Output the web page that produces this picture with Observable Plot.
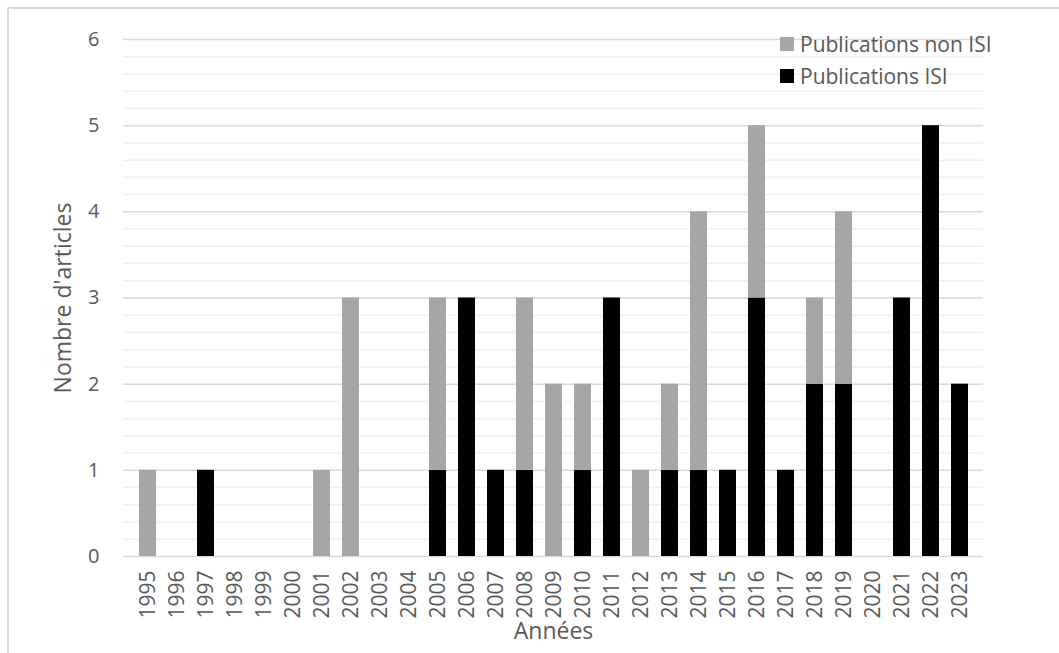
<!DOCTYPE html>
<html>
<head>
<meta charset="utf-8">
<script src="https://cdn.jsdelivr.net/npm/d3@7"></script>
<script src="https://cdn.jsdelivr.net/npm/@observablehq/plot@0.6"></script>
<style>
  html, body { margin: 0; padding: 0; background: #fff; overflow: hidden; }
  #wrap { position: relative; width: 1059px; height: 653px; }
  #border { position: absolute; left: 7px; top: 7px; width: 1100px; height: 700px; border: 2px solid #d9d9d9; box-sizing: border-box; }
  #chart { position: absolute; left: 0; top: 0; }
  #legend { position: absolute; left: 780px; top: 28px; font-family: "Open Sans", sans-serif; font-size: 21px; color: #595959; }
  .item { display: flex; align-items: center; height: 32px; white-space: nowrap; }
  .sw { width: 14px; height: 14px; margin-right: 6px; }
</style>
</head>
<body>
<div id="wrap">
  <div id="border"></div>
  <div id="chart"></div>
  <div id="legend"></div>
</div>
<script>
const years = ["1995","1996","1997","1998","1999","2000","2001","2002","2003","2004","2005","2006","2007","2008","2009","2010","2011","2012","2013","2014","2015","2016","2017","2018","2019","2020","2021","2022","2023"];
const isi    = [0,0,1,0,0,0,0,0,0,0,1,3,1,1,0,1,3,0,1,1,1,3,1,2,2,0,3,5,2];
const nonIsi = [1,0,0,0,0,0,1,3,0,0,2,0,0,2,2,1,0,1,1,3,0,2,0,1,2,0,0,0,0];
const seriesNames = ["Publications ISI", "Publications non ISI"];
const seriesColors = ["#000000", "#a6a6a6"];
const yTicks = [0,1,2,3,4,5,6];
const yMinor = [0.2,0.4,0.6,0.8,1.2,1.4,1.6,1.8,2.2,2.4,2.6,2.8,3.2,3.4,3.6,3.8,4.2,4.4,4.6,4.8,5.2,5.4,5.6,5.8];
const xTitle = "Années";
const yTitle = "Nombre d'articles";

const rows = [];
years.forEach((y, i) => rows.push({year: y, series: seriesNames[0], value: isi[i]}));
years.forEach((y, i) => rows.push({year: y, series: seriesNames[1], value: nonIsi[i]}));

const chart = Plot.plot({
  width: 1059,
  height: 653,
  marginLeft: 123,
  marginRight: 76,
  marginTop: 39,
  marginBottom: 97,
  style: {fontFamily: "Open Sans", fontSize: "20px", color: "#595959", background: "transparent"},
  x: {domain: years, padding: 0.42, label: null},
  y: {domain: [0, 6], label: null},
  color: {domain: seriesNames, range: seriesColors},
  marks: [
    Plot.ruleY(yMinor, {stroke: "#f0f0f0", strokeWidth: 1.5}),
    Plot.ruleY(yTicks, {stroke: "#d9d9d9", strokeWidth: 1.5}),
    Plot.barY(rows, {x: "year", y: "value", fill: "series"}),
    Plot.axisX({tickSize: 0, tickRotate: -90, tickPadding: 14, fontSize: 21, fill: "#595959", label: null}),
    Plot.axisY(yTicks, {tickSize: 0, tickPadding: 24, fontSize: 20, tickFormat: "d", fill: "#595959", label: null}),
    Plot.text([xTitle], {frameAnchor: "bottom", dy: 82, fontSize: 23, fill: "#595959"}),
    Plot.text([yTitle], {frameAnchor: "left", dx: -60, rotate: -90, textAnchor: "middle", fontSize: 23, fill: "#595959"})
  ]
});
document.getElementById("chart").appendChild(chart);

const legend = document.getElementById("legend");
[1, 0].forEach(i => {
  const item = document.createElement("div");
  item.className = "item";
  const sw = document.createElement("div");
  sw.className = "sw";
  sw.style.background = seriesColors[i];
  const label = document.createElement("span");
  label.textContent = seriesNames[i];
  item.appendChild(sw);
  item.appendChild(label);
  legend.appendChild(item);
});
</script>
</body>
</html>
